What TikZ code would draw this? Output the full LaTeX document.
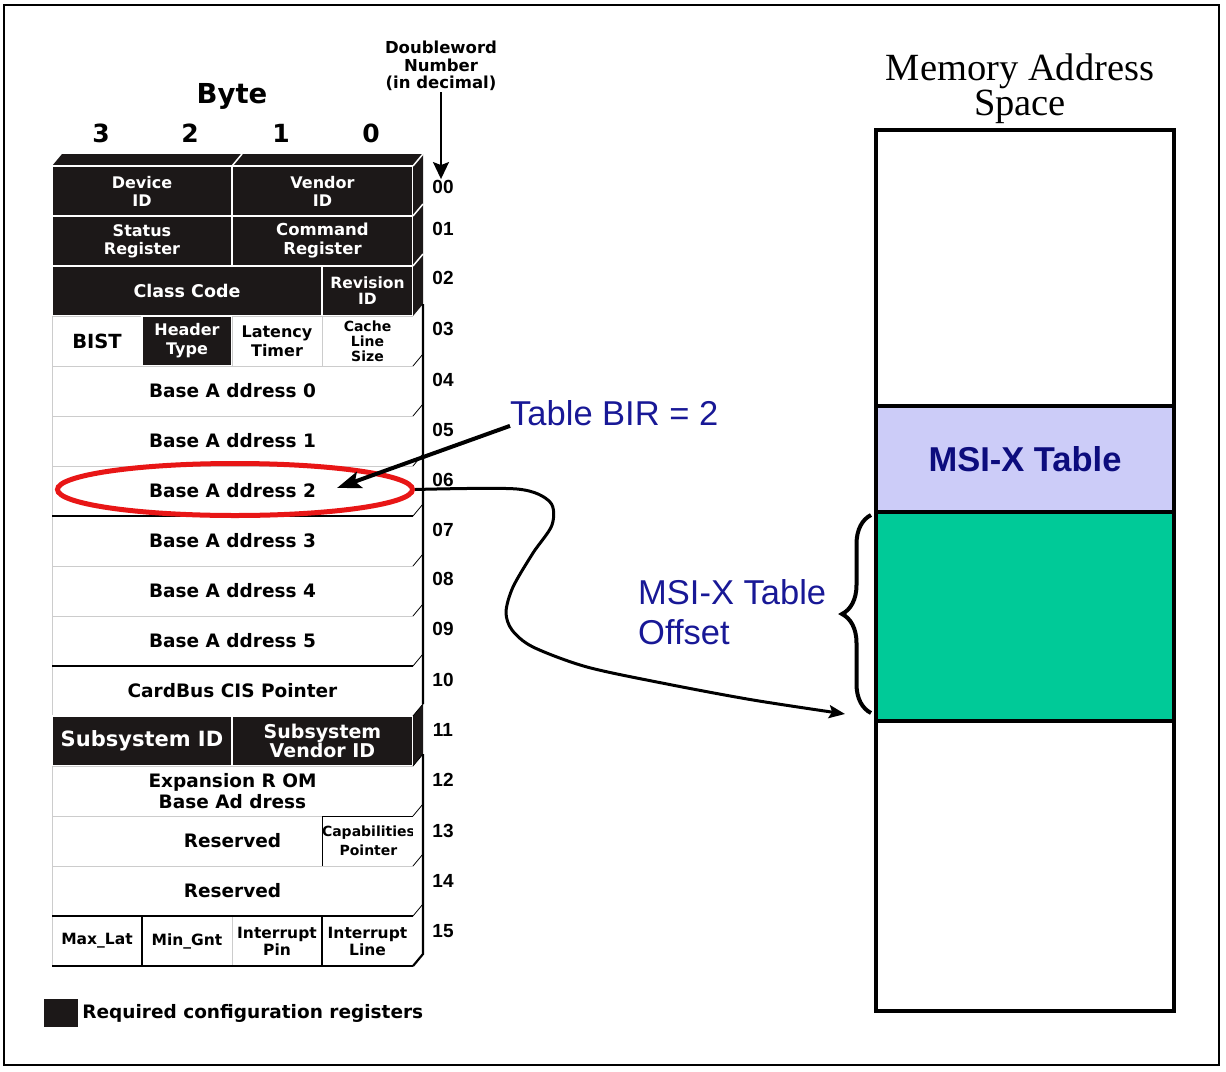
\documentclass[tikz,border=0pt]{standalone}
\usepackage{fontspec}
\usetikzlibrary{shapes.geometric,arrows.meta,decorations.pathreplacing,positioning}

\newfontfamily\regfont{DejaVu Sans}
\newfontfamily\numfont{Liberation Sans}
\newfontfamily\memfont{Liberation Serif}

\definecolor{regblack}{RGB}{28,24,24}
\definecolor{birblue}{RGB}{24,24,150}
\definecolor{tabblue}{RGB}{12,12,125}
\definecolor{selred}{RGB}{232,22,22}
\definecolor{msipurple}{RGB}{204,204,248}
\definecolor{offgreen}{RGB}{0,202,152}

\newcommand\regbig{\regfont\bfseries\fontsize{18.5pt}{21pt}\selectfont}
\newcommand\regmid{\regfont\bfseries\fontsize{16pt}{18pt}\selectfont}
\newcommand\regsml{\regfont\bfseries\fontsize{14pt}{15pt}\selectfont}

\tikzset{
  cell/.style={draw=gray!40, line width=0.8pt, fill=white, anchor=north west,
    inner sep=0pt, outer sep=0pt, minimum height=50pt, align=center, font=\regbig},
  req/.style={cell, draw=white, line width=2pt, fill=regblack, text=white},
  bytenum/.style={font=\regfont\bfseries\fontsize{25pt}{25pt}\selectfont},
  dword/.style={inner sep=1pt, font=\numfont\bfseries\fontsize{19pt}{19pt}\selectfont},
  bluelabel/.style={text=birblue, inner sep=0pt, align=left,
    font=\numfont\fontsize{34.5pt}{40pt}\selectfont},
  memseg/.style={draw, line width=4.5pt, minimum width=298pt, inner sep=0pt},
}

\begin{document}
\begin{tikzpicture}[x=1pt,y=-1pt]
  \useasboundingbox (0,0) rectangle (1226,1071);
  \draw[line width=2.5pt] (4,5) rectangle (1219,1065);

  % byte numbers
  \node[font=\regfont\bfseries\fontsize{27.5pt}{30pt}\selectfont] (byte) at (232,96) {Byte};
  \node[bytenum] (b3) at (101,133) {3};
  \node[bytenum] (b2) at (190,133) {2};
  \node[bytenum] (b1) at (281,133) {1};
  \node[bytenum] (b0) at (371,133) {0};

  % top face of the header block
  \fill[regblack] (52,166) -- (62,154) -- (423,154) -- (413,166) -- cycle;
  \draw[white, line width=1.5pt] (232,166) -- (242,154);

  % configuration header
  \node[req, minimum width=180pt, font=\regmid] (devid) at (52,166) {Device\\ID};
  \node[req, minimum width=181pt, font=\regmid] (venid) at (232,166) {Vendor\\ID};
  \node[req, minimum width=180pt, font=\regmid] (status) at (52,216) {Status\\Register};
  \node[req, minimum width=181pt, font=\regfont\bfseries\fontsize{16.5pt}{19pt}\selectfont] (command) at (232,216) {Command\\Register};
  \node[req, minimum width=270pt, font=\regfont\bfseries\fontsize{17.5pt}{19pt}\selectfont] (class) at (52,266) {Class Code};
  \node[req, minimum width=91pt, font=\regfont\bfseries\fontsize{15.5pt}{16pt}\selectfont] (revid) at (322,266) {Revision\\ID};
  \node[cell, minimum width=90pt, font=\regfont\bfseries\fontsize{19.5pt}{21pt}\selectfont] (bist) at (52,316) {BIST};
  \node[req, minimum width=90pt, font=\regfont\bfseries\fontsize{16pt}{19pt}\selectfont] (hdrtype) at (142,316) {Header\\Type};
  \node[cell, minimum width=90pt, font=\regfont\bfseries\fontsize{16pt}{19pt}\selectfont] (lattimer) at (232,316) {Latency\\Timer};
  \node[cell, minimum width=91pt, font=\regsml] (cachesz) at (322,316) {Cache\\Line\\Size};
  \node[cell, minimum width=361pt] (bar0) at (52,366) {Base A ddress 0};
  \node[cell, minimum width=361pt] (bar1) at (52,416) {Base A ddress 1};
  \node[cell, minimum width=361pt] (bar2) at (52,466) {Base A ddress 2};
  \node[cell, minimum width=361pt] (bar3) at (52,516) {Base A ddress 3};
  \node[cell, minimum width=361pt] (bar4) at (52,566) {Base A ddress 4};
  \node[cell, minimum width=361pt] (bar5) at (52,616) {Base A ddress 5};
  \node[cell, minimum width=361pt] (cardbus) at (52,666) {CardBus CIS Pointer};
  \node[req, minimum width=180pt, font=\regfont\bfseries\fontsize{21pt}{21pt}\selectfont] (subid) at (52,716) {Subsystem ID};
  \node[req, minimum width=181pt, font=\regfont\bfseries\fontsize{19pt}{18.5pt}\selectfont] (subvenid) at (232,716) {Subsystem\\Vendor ID};
  \node[cell, minimum width=361pt] (exprom) at (52,766) {Expansion R OM\\Base Ad dress};
  \node[cell, minimum width=361pt] (resv13) at (52,816) {Reserved};
  \node[cell, draw=black, minimum width=91pt, font=\regfont\bfseries\fontsize{14pt}{19pt}\selectfont] (capptr) at (322,816) {Capabilities\\Pointer};
  \node[cell, minimum width=361pt] (resv14) at (52,866) {Reserved};
  \node[cell, minimum width=90pt, font=\regfont\bfseries\fontsize{15.5pt}{17pt}\selectfont] (maxlat) at (52,916) {Max\_Lat};
  \node[cell, minimum width=90pt, font=\regfont\bfseries\fontsize{15.5pt}{17pt}\selectfont] (mingnt) at (142,916) {Min\_Gnt};
  \node[cell, minimum width=90pt, font=\regfont\bfseries\fontsize{15.5pt}{17pt}\selectfont] (intpin) at (232,916) {Interrupt\\Pin};
  \node[cell, minimum width=91pt, font=\regfont\bfseries\fontsize{15.5pt}{17pt}\selectfont] (intline) at (322,916) {Interrupt\\Line};
  \draw[line width=1.2pt] (52,516) -- (413,516);
  \draw[line width=1.2pt] (52,666) -- (413,666);
  \draw[line width=2pt] (52,916) -- (413,916) (52,966) -- (413,966);
  \draw[line width=1.5pt] (142,916) -- (142,966) (322,916) -- (322,966);

  % side face
  \fill[white] (413,166) -- (423,154) -- (423,954) -- (413,966) -- cycle;
  \fill[regblack] (413,166) -- (423,154) -- (423,304) -- (413,316) -- cycle;
  \fill[regblack] (413,716) -- (423,704) -- (423,754) -- (413,766) -- cycle;
  \draw[white, line width=1.5pt] (413,166) -- (423,154) (413,216) -- (423,204) (413,266) -- (423,254);
  \draw[line width=2.2pt] (423,304) -- (423,704) (423,754) -- (423,954) -- (413,966);
  \foreach \y in {366,416,...,916}
    \draw[line width=0.8pt] (413,\y) -- ++(10,-12);

  % doubleword numbers
  \node[font=\regfont\bfseries\fontsize{16.5pt}{17.5pt}\selectfont, align=center, inner sep=1pt] (dwlabel) at (441,66) {Doubleword\\Number\\(in decimal)};
  \node[dword] (n00) at (443,187) {00};
  \node[dword] (n01) at (443,229) {01};
  \node[dword] (n02) at (443,278) {02};
  \node[dword] (n03) at (443,329) {03};
  \node[dword] (n04) at (443,380) {04};
  \node[dword] (n05) at (443,430) {05};
  \node[dword] (n06) at (443,480) {06};
  \node[dword] (n07) at (443,530) {07};
  \node[dword] (n08) at (443,579) {08};
  \node[dword] (n09) at (443,629) {09};
  \node[dword] (n10) at (443,680) {10};
  \node[dword] (n11) at (443,730) {11};
  \node[dword] (n12) at (443,780) {12};
  \node[dword] (n13) at (443,831) {13};
  \node[dword] (n14) at (443,881) {14};
  \node[dword] (n15) at (443,931) {15};
  \draw[line width=2pt, -{Stealth[length=17pt, width=16pt, inset=3pt]}] (dwlabel.south) -- (dwlabel.south |- n00.north);

  % legend
  \node[fill=regblack, minimum width=34pt, minimum height=28pt, inner sep=0pt] (legbox) at (61,1013) {};
  \node[right=4pt of legbox, inner sep=0pt, font=\regbig] (legtext) {Required configuration registers};

  % memory address space
  \node[font=\memfont\fontsize{38.5pt}{33pt}\selectfont, align=center] (memtitle) at (1020,89) {Memory Address\\Space};
  \node[draw, line width=4.5pt, minimum width=298pt, minimum height=881pt, inner sep=0pt] (memspace) at (1025,570.5) {};
  \node[memseg, fill=msipurple, minimum height=106pt, text=tabblue,
    font=\numfont\bfseries\fontsize{34.5pt}{34pt}\selectfont] (msitable) at (1025,459) {MSI-X Table};
  \node[memseg, fill=offgreen, minimum height=209pt] (msioffset) at (1025,616.5) {};
  \draw[line width=4pt, decorate, decoration={brace, amplitude=29pt}] (871,713) -- (871,515);

  % table BIR selects BAR 2
  \node[ellipse, draw=selred, line width=5pt, minimum width=355pt, minimum height=52pt, inner sep=0pt] (sel) at (235,489.5) {};
  \node[bluelabel, anchor=west] (birlabel) at (510,413) {Table BIR = 2};
  \coordinate (birtip) at (337,488);
  \draw[line width=4pt, -{Stealth[length=24pt, width=17pt, inset=5pt]}] (birlabel.south west) -- (birtip);

  % offset into the BAR
  \node[bluelabel, anchor=west] (offlabel) at (638,612) {MSI-X Table\\Offset};
  \coordinate (offend) at (845,714);
  \draw[line width=3pt, -{Stealth[length=16pt, width=13pt, inset=3pt]}]
    plot[smooth, tension=0.5] coordinates {(sel.east) (517,489) (550,502) (552,525) (533,553) (513,587) (506,612) (512,630) (533,647) (587,667) (667,684) (753,700) (offend)};
\end{tikzpicture}
\end{document}
